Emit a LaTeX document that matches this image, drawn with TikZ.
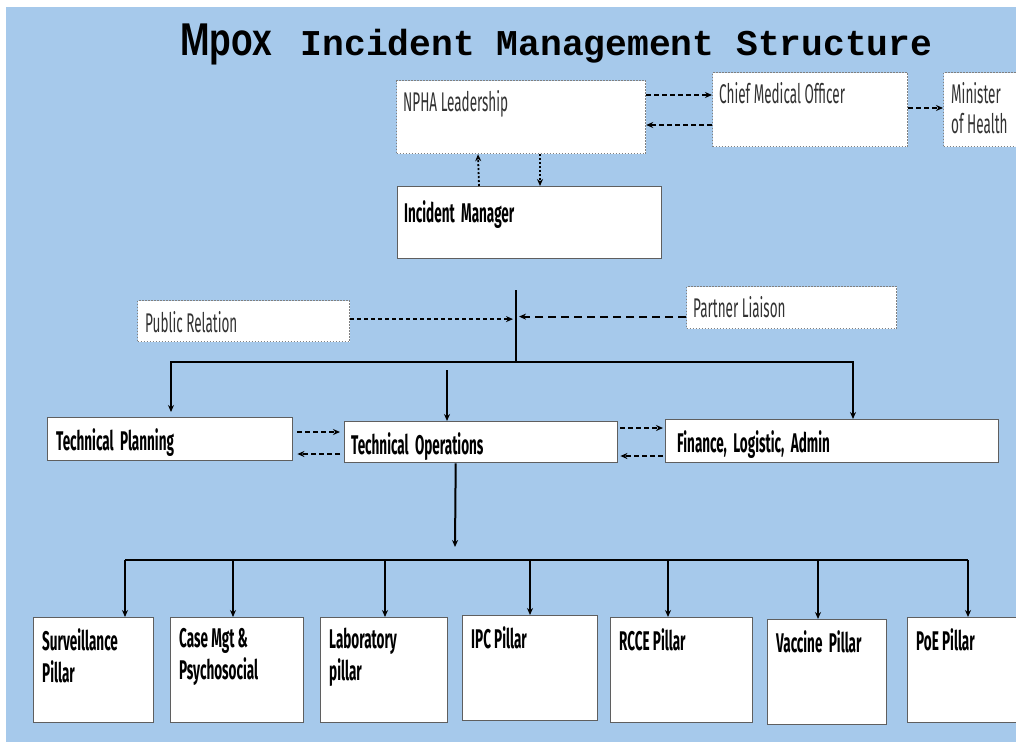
\documentclass[tikz,border=0pt]{standalone}
\usepackage{fontspec}
\setmainfont{Fira Sans}
\newfontfamily\boxfont[FakeStretch=0.5]{Fira Sans}
\newfontfamily\titlemono{Liberation Mono}
\newfontfamily\titlesans[FakeStretch=0.77]{Liberation Sans}
\usepackage{tikz}
\usetikzlibrary{positioning}
\usetikzlibrary{arrows.meta}
\tikzset{>={Stealth[length=7pt,width=6pt]}}
\definecolor{skyback}{RGB}{166,201,235}
\definecolor{framegray}{RGB}{95,95,95}
\definecolor{textgray}{RGB}{50,50,50}

\tikzset{
  solidbox/.style={draw=framegray, line width=1.4pt, fill=white, anchor=north west, inner sep=0pt},
  dotbox/.style={draw=gray, dash pattern=on 1.5pt off 1.5pt, line width=1.2pt, fill=white, anchor=north west, inner sep=0pt},
  boxtext/.style={anchor=north west, inner sep=0pt, align=left, font=\boxfont\fontsize{27}{32}\selectfont\bfseries},
  softtext/.style={boxtext, text=textgray, font=\boxfont\fontsize{27}{30}\selectfont},
  link/.style={line width=2pt, ->},
  dashlink/.style={line width=2pt, ->, dash pattern=on 5pt off 3pt},
  longdash/.style={line width=2.2pt, ->, dash pattern=on 8pt off 5pt},
  dotlink/.style={line width=1.8pt, ->, dash pattern=on 2pt off 2pt}
}

\begin{document}
\begin{tikzpicture}[x=1pt,y=-1pt]
\clip (0,0) rectangle (1016,747);
\fill[skyback] (6,7) rectangle (1016,742);

% title
\node[anchor=base west, inner sep=0pt] (title) at (180,55) {{\titlesans\bfseries\fontsize{46}{50}\selectfont Mpox}\hspace{28pt}{\titlemono\bfseries\fontsize{36.3}{40}\selectfont Incident Management Structure}};

% leadership
\node[dotbox, minimum width=249pt, minimum height=73pt] (npha) at (396,80) {};
\node[softtext] (npha-t) at ([shift={(7,10)}]npha.north west) {NPHA Leadership};
\node[dotbox, minimum width=195pt, minimum height=74pt] (cmo) at (712,72) {};
\node[softtext] (cmo-t) at ([shift={(7,10)}]cmo.north west) {Chief Medical Officer};
\node[dotbox, minimum width=80pt, minimum height=74pt] (moh) at (943,72) {};
\node[softtext] (moh-t) at ([shift={(8,10)}]moh.north west) {Minister\\of Health};
\node[solidbox, minimum width=264pt, minimum height=72pt] (im) at (397,186) {};
\node[boxtext] (im-t) at ([shift={(7,14)}]im.north west) {Incident\ \ Manager};

\draw[dashlink] ([yshift=-15pt]npha.north east) -- ([yshift=-23pt]cmo.north west);
\draw[dashlink] ([yshift=-53pt]cmo.north west) -- ([yshift=-45pt]npha.north east);
\draw[dashlink] ([yshift=-36pt]cmo.north east) -- ([yshift=-36pt]moh.north west);
\draw[dotlink] ([xshift=82pt]im.north west) -- ([xshift=82pt]npha.south west);
\draw[dotlink] ([xshift=144pt]npha.south west) -- ([xshift=143pt]im.north west);

% liaison
\node[dotbox, minimum width=212pt, minimum height=41pt] (pr) at (137,300) {};
\node[softtext] (pr-t) at ([shift={(8,11)}]pr.north west) {Public Relation};
\node[dotbox, minimum width=210pt, minimum height=42pt] (pl) at (686,286) {};
\node[softtext] (pl-t) at ([shift={(7,10)}]pl.north west) {Partner Liaison};

\coordinate (imtail) at (516,290);
\coordinate (split) at (516,362);
\draw[line width=2pt] (imtail) -- (split);
\draw[dashlink, dash pattern=on 4pt off 3pt] ([yshift=2pt]pr.east) -- ([xshift=-3pt,yshift=2pt]imtail |- pr.east);
\draw[longdash] ([yshift=-9pt]pl.west) -- ([xshift=3pt,yshift=-9pt]imtail |- pl.west);

% sections
\node[solidbox, minimum width=245pt, minimum height=43pt] (tp) at (47,417) {};
\node[boxtext] (tp-t) at ([shift={(9,11)}]tp.north west) {Technical\ \ Planning};
\node[solidbox, minimum width=273pt, minimum height=41pt] (to) at (344,421) {};
\node[boxtext] (to-t) at ([shift={(7,11)}]to.north west) {Technical\ \ Operations};
\node[solidbox, minimum width=333pt, minimum height=43pt] (fla) at (665,419) {};
\node[boxtext] (fla-t) at ([shift={(12,11)}]fla.north west) {Finance,\ \ Logistic,\ \ Admin};

\coordinate (tpdrop) at (171,362);
\coordinate (fladrop) at (853,362);
\coordinate (totop) at (447,370);
\draw[link] (split) -- (tpdrop) -- ([yshift=5pt]tpdrop |- tp.north);
\draw[link] (split) -- (fladrop) -- (fladrop |- fla.north);
\draw[link] (totop) -- (totop |- to.north);

\draw[dashlink] ([xshift=4pt,yshift=-15pt]tp.north east) -- ([xshift=-4pt,yshift=-11pt]to.north west);
\draw[dashlink] ([xshift=-4pt,yshift=-33pt]to.north west) -- ([xshift=4pt,yshift=-37pt]tp.north east);
\draw[dashlink] ([xshift=2pt,yshift=-7pt]to.north east) -- ([xshift=-2pt,yshift=-9pt]fla.north west);
\draw[dashlink] ([xshift=-2pt,yshift=-37pt]fla.north west) -- ([xshift=2pt,yshift=-35pt]to.north east);

% pillars
\coordinate (todown) at (455,547);
\draw[link] ([xshift=-25.5pt]to.south) -- (todown);
\foreach \nm/\px/\py/\bw/\dropx/\txt in {
  sp/33/617/120/125/{Surveillance\\Pillar},
  cm/170/617/133/233/{Case Mgt \&\\Psychosocial},
  lp/320/617/127/385/{Laboratory\\pillar},
  ipc/462/615/135/530/{IPC Pillar},
  rcce/610/617/142/668/{RCCE Pillar},
  vp/767/619/119/818/{Vaccine\ \ Pillar},
  poe/907/617/115/968/{PoE Pillar}}
{
  \node[solidbox, minimum width=\bw pt, minimum height=105pt] (\nm) at (\px,\py) {};
  \node[boxtext] (\nm-t) at ([shift={(9,11)}]\nm.north west) {\txt};
  \coordinate (\nm-d) at (\dropx,560);
  \draw[link] (\nm-d) -- (\nm-d |- \nm.north);
}
\draw[line width=2pt] (sp-d) -- (poe-d);
\end{tikzpicture}
\end{document}
